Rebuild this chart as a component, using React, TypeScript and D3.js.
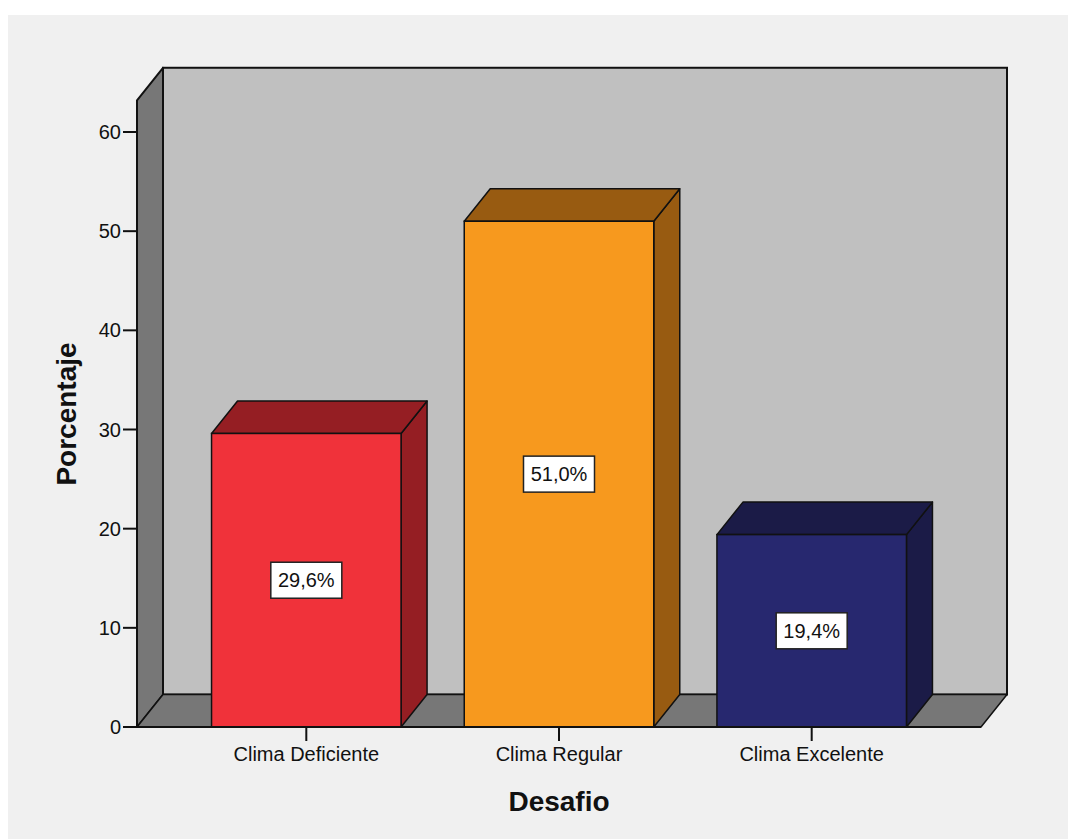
import React from "react";
import * as d3 from "d3";

const categories = ["Clima Deficiente", "Clima Regular", "Clima Excelente"];
const values = [29.6, 51.0, 19.4];
const valueLabels = ["29,6%", "51,0%", "19,4%"];
const frontColors = ["#F0323A", "#F7991E", "#27286F"];
const darkColors = ["#951E23", "#985B11", "#1B1B47"];
const yTicks = [0, 10, 20, 30, 40, 50, 60];
const xTitle = "Desafio";
const yTitle = "Porcentaje";

const W = 1068;
const H = 839;
const FONT = "'Liberation Sans', Arial, Helvetica, sans-serif";

export default function App() {
  const left = 137;
  const right = 981;
  const base = 727;
  const dx = 26;
  const dy = 32.5;
  const wallTopValue = 63.2;

  const y = d3.scaleLinear().domain([0, 60]).range([base, 132]);
  const x = d3
    .scaleBand<string>()
    .domain(categories)
    .range([left, right])
    .paddingInner(0.25)
    .paddingOuter(0.295);

  const wallTop = y(wallTopValue);
  const pts = (arr: [number, number][]) => arr.map((p) => p.join(",")).join(" ");
  const stroke = "#111";

  return (
    <svg
      width={W}
      height={H}
      style={{ position: "absolute", left: 0, top: 0, display: "block" }}
    >
      <rect x={0} y={0} width={W} height={H} fill="#ffffff" />
      <rect x={8} y={15} width={W - 8} height={H - 15} fill="#F0F0F0" />

      {/* back wall */}
      <rect
        x={left + dx}
        y={wallTop - dy}
        width={right - left}
        height={base - wallTop}
        fill="#C0C0C0"
        stroke={stroke}
        strokeWidth={2}
      />
      {/* left wall */}
      <polygon
        points={pts([
          [left, base],
          [left, wallTop],
          [left + dx, wallTop - dy],
          [left + dx, base - dy],
        ])}
        fill="#777777"
        stroke={stroke}
        strokeWidth={2}
        strokeLinejoin="round"
      />
      {/* floor */}
      <polygon
        points={pts([
          [left, base],
          [right, base],
          [right + dx, base - dy],
          [left + dx, base - dy],
        ])}
        fill="#777777"
        stroke={stroke}
        strokeWidth={1.5}
        strokeLinejoin="round"
      />

      {/* bars */}
      {categories.map((c, i) => {
        const x0 = x(c) as number;
        const x1 = x0 + x.bandwidth();
        const top = y(values[i]);
        return (
          <g key={c}>
            <polygon
              points={pts([
                [x1, top],
                [x1 + dx, top - dy],
                [x1 + dx, base - dy],
                [x1, base],
              ])}
              fill={darkColors[i]}
              stroke={stroke}
              strokeWidth={1.5}
              strokeLinejoin="round"
            />
            <polygon
              points={pts([
                [x0, top],
                [x0 + dx, top - dy],
                [x1 + dx, top - dy],
                [x1, top],
              ])}
              fill={darkColors[i]}
              stroke={stroke}
              strokeWidth={1.5}
              strokeLinejoin="round"
            />
            <rect
              x={x0}
              y={top}
              width={x1 - x0}
              height={base - top}
              fill={frontColors[i]}
              stroke={stroke}
              strokeWidth={1.5}
            />
          </g>
        );
      })}

      {/* value labels */}
      {categories.map((c, i) => {
        const cx = (x(c) as number) + x.bandwidth() / 2;
        const cy = (y(values[i]) + base) / 2;
        const bw = 71;
        const bh = 36;
        return (
          <g key={"lbl" + c}>
            <rect
              x={cx - bw / 2}
              y={cy - bh / 2}
              width={bw}
              height={bh}
              fill="#ffffff"
              stroke="#222"
              strokeWidth={1.5}
            />
            <text
              x={cx}
              y={cy + 7}
              textAnchor="middle"
              fontFamily={FONT}
              fontSize={20}
              fill="#111"
            >
              {valueLabels[i]}
            </text>
          </g>
        );
      })}

      {/* y axis */}
      <line x1={left} x2={left} y1={base} y2={wallTop} stroke={stroke} strokeWidth={2} />
      {yTicks.map((t) => (
        <g key={"yt" + t}>
          <line x1={left - 14} x2={left} y1={y(t)} y2={y(t)} stroke={stroke} strokeWidth={2} />
          <text
            x={left - 16}
            y={y(t) + 7}
            textAnchor="end"
            fontFamily={FONT}
            fontSize={20}
            fill="#111"
          >
            {t}
          </text>
        </g>
      ))}

      {/* x axis */}
      <line x1={left} x2={right} y1={base} y2={base} stroke={stroke} strokeWidth={2} />
      {categories.map((c) => {
        const cx = (x(c) as number) + x.bandwidth() / 2;
        return (
          <g key={"xt" + c}>
            <line x1={cx} x2={cx} y1={base} y2={base + 14} stroke={stroke} strokeWidth={2} />
            <text
              x={cx}
              y={761}
              textAnchor="middle"
              fontFamily={FONT}
              fontSize={20}
              fill="#111"
            >
              {c}
            </text>
          </g>
        );
      })}

      {/* titles */}
      <text
        x={559}
        y={811}
        textAnchor="middle"
        fontFamily={FONT}
        fontWeight="bold"
        fontSize={28}
        fill="#111"
      >
        {xTitle}
      </text>
      <text
        transform={`translate(76,414) rotate(-90)`}
        textAnchor="middle"
        fontFamily={FONT}
        fontWeight="bold"
        fontSize={28}
        fill="#111"
      >
        {yTitle}
      </text>
    </svg>
  );
}
